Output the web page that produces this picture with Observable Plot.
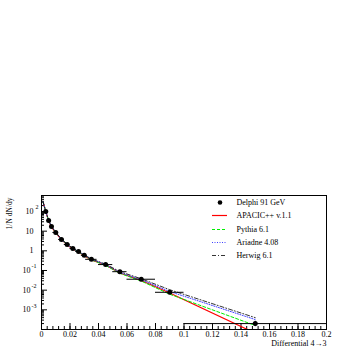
<!DOCTYPE html>
<html><head><meta charset="utf-8">
<script src="https://cdn.jsdelivr.net/npm/d3@7"></script>
<script src="https://cdn.jsdelivr.net/npm/@observablehq/plot@0.6"></script>
<style>body{margin:0;background:#fff} svg{display:block}</style>
</head><body><div id="chart"></div>
<script>
// ---- data ----
const dataX     = [0.003,0.005,0.007,0.010,0.014,0.018,0.022,0.026,0.030,0.035,0.045,0.055,0.070,0.090,0.150];
const dataY     = [100,35,17,8.6,3.8,2.1,1.3,0.93,0.59,0.37,0.20,0.087,0.036,0.0078,0.00020];
const dataXerr  = [0.001,0.001,0.001,0.002,0.002,0.002,0.002,0.002,0.002,0.004,0.005,0.005,0.010,0.010,0.050];
const dataYerr  = [0,0,0,0,0,0,0,0,0,0,0,0,0,0,0.00006];

const modelX    = [0.001,0.003,0.005,0.007,0.010,0.014,0.018,0.022,0.026,0.030,0.035,0.045,0.055,0.070,0.090,0.150];
const apacic    = [330,98,34,16,8.3,3.7,2.0,1.25,0.88,0.56,0.34,0.19,0.075,0.031,0.0072,0.000065];
const pythia    = [320,100,35,17,8.5,3.8,2.1,1.28,0.90,0.57,0.35,0.18,0.072,0.029,0.0062,0.00016];
const ariadne   = [320,100,35,17,8.6,3.8,2.1,1.30,0.92,0.60,0.37,0.20,0.080,0.034,0.0085,0.00032];
const herwig    = [330,102,36,17.5,8.8,3.9,2.2,1.35,0.95,0.62,0.39,0.21,0.088,0.038,0.0105,0.00040];

const legendLabels = ["Delphi 91 GeV","APACIC++ v.1.1","Pythia 6.1","Ariadne 4.08","Herwig 6.1"];
const xTickLabels = [0,0.02,0.04,0.06,0.08,0.1,0.12,0.14,0.16,0.18,0.2];
const yTickValues = [1e-3,1e-2,1e-1,1,10,100];
const yTickBase   = ["10","10","10","1","10","10"];
const yTickExp    = ["-3","-2","-1","","","2"];

// ---- layout helpers ----
const W = 354, H = 354, mT = 195, mB = 25, mL = 41, mR = 28;
const yDom = [1e-4, 650], xDom = [0, 0.2];
const innerH = H - mT - mB, innerW = W - mL - mR;
const yAt = off => Math.pow(10, Math.log10(yDom[1]) - off / innerH * (Math.log10(yDom[1]) - Math.log10(yDom[0])));
const xAt = off => xDom[0] + off / innerW * (xDom[1] - xDom[0]);
const legRowOff = [7, 20, 34, 47, 60];
const legY = legRowOff.map(yAt);
const legX1 = xAt(171), legX2 = xAt(186), legXm = xAt(178.5), legXt = xAt(195);

const points = dataX.map((x,i) => ({x, y: dataY[i], x1: x - dataXerr[i], x2: x + dataXerr[i], y1: dataY[i]-dataYerr[i], y2: dataY[i]+dataYerr[i]}));
const series = [
  {name: "APACIC", vals: apacic, stroke: "#ff0000", dash: null, w: 1.2},
  {name: "Pythia", vals: pythia, stroke: "#00ee00", dash: "3,2", w: 1},
  {name: "Ariadne", vals: ariadne, stroke: "#4040ff", dash: "1,1.5", w: 1},
  {name: "Herwig", vals: herwig, stroke: "#000000", dash: "4,2,1,2", w: 0.8}
];

const minorY = [];
for (let e = -4; e <= 2; e++) for (let m = 2; m <= 9; m++) { const v = m * Math.pow(10, e); if (v <= yDom[1]) minorY.push(v); }
const majorY = [1e-4,1e-3,1e-2,1e-1,1,10,100];
const minorX = d3.range(0, 0.2001, 0.004);

const marks = [
  // ticks (inside)
  Plot.axisX({ticks: xTickLabels, tickSize: -6, tickFormat: () => "", label: null}),
  Plot.axisX({ticks: minorX, tickSize: -3, tickFormat: () => "", label: null}),
  Plot.axisY({ticks: majorY, tickSize: -6, tickFormat: () => "", label: null}),
  Plot.axisY({ticks: minorY, tickSize: -3, tickFormat: () => "", label: null}),
  // tick labels
  Plot.text(xTickLabels, {x: d => d, frameAnchor: "bottom", dy: 5, lineAnchor: "middle", text: d => String(+d.toFixed(2)), fontSize: 8}),
  Plot.text(yTickValues, {y: d => d, frameAnchor: "left", dx: (d) => 0, text: (d,i) => yTickBase[i], textAnchor: "end", lineAnchor: "middle", fontSize: 8,
    render: null}),
];

// y tick labels with separate offsets for negative exponents
const yLab = yTickValues.map((v,i) => ({v, base: yTickBase[i], exp: yTickExp[i]}));
marks.pop();
marks.push(
  Plot.text(yLab.filter(d => !d.exp.startsWith("-")), {y: "v", text: "base", frameAnchor: "left", dx: -8, textAnchor: "end", lineAnchor: "middle", fontSize: 8}),
  Plot.text(yLab.filter(d => d.exp.startsWith("-")), {y: "v", text: "base", frameAnchor: "left", dx: -11, textAnchor: "end", lineAnchor: "middle", fontSize: 8}),
  Plot.text(yLab.filter(d => d.exp && !d.exp.startsWith("-")), {y: "v", text: "exp", frameAnchor: "left", dx: -6, dy: -4, textAnchor: "start", lineAnchor: "middle", fontSize: 6}),
  Plot.text(yLab.filter(d => d.exp.startsWith("-")), {y: "v", text: "exp", frameAnchor: "left", dx: -10, dy: -4, textAnchor: "start", lineAnchor: "middle", fontSize: 6})
);

// model curves
for (const s of series) {
  marks.push(Plot.line(modelX.map((x,i) => ({x, y: s.vals[i]})), {x: "x", y: "y", stroke: s.stroke, strokeWidth: s.w, strokeDasharray: s.dash, clip: true}));
}
// data
marks.push(
  Plot.ruleY(points, {y: "y", x1: "x1", x2: "x2", stroke: "black", strokeWidth: 1, clip: true}),
  Plot.ruleX(points.filter(d => d.y2 > d.y1), {x: "x", y1: "y1", y2: "y2", stroke: "black", strokeWidth: 1}),
  Plot.dot(points, {x: "x", y: "y", r: 2.5, fill: "black", stroke: "none"})
);
// legend
marks.push(
  Plot.dot([0], {x: () => legXm, y: () => legY[0], r: 2.3, fill: "black", stroke: "none"}),
  ...series.map((s,i) => Plot.ruleY([0], {y: () => legY[i+1], x1: () => legX1, x2: () => legX2, stroke: s.stroke, strokeWidth: s.w, strokeDasharray: s.dash})),
  Plot.text(legendLabels, {x: () => legXt, y: (d,i) => legY[i], text: d => d, textAnchor: "start", lineAnchor: "middle", fontSize: 8})
);
// axis titles
marks.push(
  Plot.text(["Differential 4\u21923"], {frameAnchor: "bottom-right", dy: 14, textAnchor: "end", lineAnchor: "middle", fontSize: 8}),
  Plot.text(["1/N dN/dy"], {frameAnchor: "top-left", dx: -32, dy: 2, rotate: -90, textAnchor: "end", lineAnchor: "middle", fontSize: 7.5}),
  Plot.frame({stroke: "black", strokeWidth: 1})
);

const chart = Plot.plot({
  width: W, height: H,
  marginTop: mT, marginBottom: mB, marginLeft: mL, marginRight: mR,
  x: {domain: xDom, axis: null},
  y: {type: "log", domain: yDom, axis: null},
  style: {fontFamily: "'Liberation Serif', serif", fontSize: "8px", background: "white", color: "black"},
  marks
});
document.getElementById("chart").appendChild(chart);
</script>
</body></html>
